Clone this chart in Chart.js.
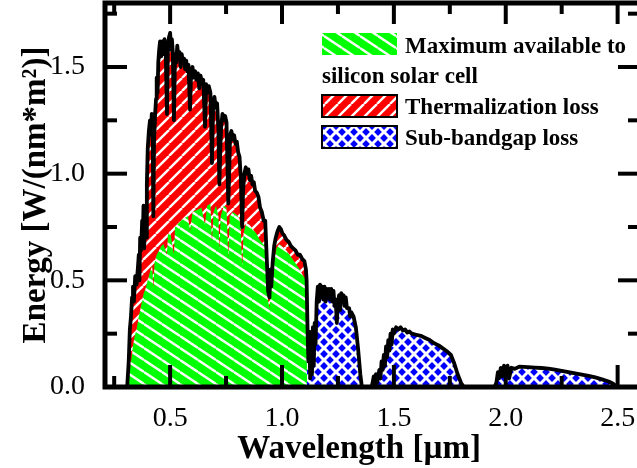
<!DOCTYPE html>
<html>
<head>
<meta charset="utf-8">
<script src="https://cdn.jsdelivr.net/npm/chart.js@4"></script>
<style>
  html, body { margin: 0; padding: 0; background: #fff; overflow: hidden; }
</style>
</head>
<body>
<canvas id="chart" width="645" height="468"></canvas>
<script>
// AM1.5 spectrum (wavelength in µm, energy in W/(nm*m^2))
const spectrumWl = [
  0.300, 0.308, 0.315, 0.320, 0.325, 0.330, 0.334, 0.338, 0.344, 0.350, 0.356, 0.360, 0.363, 0.366, 0.370,
  0.375, 0.378, 0.381, 0.384, 0.388, 0.393, 0.396, 0.400, 0.405, 0.410, 0.414, 0.418, 0.422, 0.425, 0.428,
  0.433, 0.437, 0.440, 0.444, 0.447, 0.451, 0.455, 0.460, 0.465, 0.470, 0.475, 0.480, 0.486, 0.490, 0.495,
  0.500, 0.504, 0.508, 0.512, 0.517, 0.522, 0.527, 0.532, 0.537, 0.542, 0.547, 0.552, 0.557, 0.562, 0.567,
  0.572, 0.577, 0.582, 0.589, 0.594, 0.600, 0.606, 0.612, 0.618, 0.624, 0.630, 0.636, 0.642, 0.648, 0.656,
  0.661, 0.667, 0.673, 0.680, 0.687, 0.692, 0.698, 0.704, 0.710, 0.716, 0.720, 0.724, 0.728, 0.734, 0.740,
  0.746, 0.752, 0.760, 0.764, 0.768, 0.774, 0.780, 0.786, 0.792, 0.798, 0.804, 0.810, 0.816, 0.822, 0.826,
  0.832, 0.838, 0.844, 0.850, 0.856, 0.862, 0.868, 0.874, 0.880, 0.888, 0.895, 0.902, 0.910, 0.918, 0.925,
  0.932, 0.938, 0.944, 0.948, 0.952, 0.958, 0.965, 0.972, 0.980, 0.988, 0.995, 1.002, 1.010, 1.020, 1.030,
  1.040, 1.050, 1.060, 1.070, 1.080, 1.090, 1.100, 1.107, 1.110, 1.114, 1.118, 1.122, 1.126, 1.130, 1.134,
  1.138, 1.142, 1.146, 1.150, 1.155, 1.160, 1.165, 1.170, 1.175, 1.180, 1.185, 1.190, 1.195, 1.200, 1.205,
  1.210, 1.215, 1.220, 1.225, 1.230, 1.235, 1.240, 1.245, 1.250, 1.255, 1.260, 1.265, 1.270, 1.275, 1.280,
  1.285, 1.290, 1.300, 1.305, 1.310, 1.320, 1.330, 1.340, 1.350, 1.357, 1.400, 1.405, 1.410, 1.415, 1.420,
  1.425, 1.430, 1.435, 1.440, 1.445, 1.450, 1.455, 1.460, 1.465, 1.470, 1.475, 1.480, 1.485, 1.490, 1.495,
  1.500, 1.510, 1.520, 1.530, 1.540, 1.550, 1.560, 1.570, 1.580, 1.600, 1.620, 1.640, 1.660, 1.680, 1.700,
  1.720, 1.740, 1.755, 1.770, 1.785, 1.800, 1.812, 1.950, 1.958, 1.965, 1.970, 1.978, 1.985, 1.992, 2.000,
  2.008, 2.015, 2.025, 2.040, 2.060, 2.080, 2.100, 2.130, 2.160, 2.190, 2.220, 2.250, 2.280, 2.310, 2.340,
  2.370, 2.400, 2.430, 2.460, 2.480, 2.500
];
const spectrumVal = [
  0.00, 0.00, 0.12, 0.27, 0.33, 0.42, 0.47, 0.40, 0.52, 0.48, 0.56, 0.62, 0.50, 0.70, 0.64,
  0.78, 0.70, 0.85, 0.65, 0.80, 0.70, 0.95, 1.12, 1.20, 1.25, 1.18, 1.28, 1.20, 0.80, 1.15,
  1.28, 1.35, 1.45, 1.38, 1.52, 1.58, 1.62, 1.55, 1.62, 1.56, 1.63, 1.58, 1.28, 1.60, 1.64,
  1.66, 1.58, 1.63, 1.57, 1.25, 1.56, 1.52, 1.60, 1.54, 1.57, 1.50, 1.56, 1.52, 1.54, 1.49,
  1.53, 1.48, 1.51, 1.30, 1.48, 1.50, 1.45, 1.48, 1.44, 1.47, 1.40, 1.46, 1.42, 1.44, 1.22,
  1.42, 1.38, 1.41, 1.38, 1.05, 1.30, 1.36, 1.31, 1.33, 1.20, 0.95, 1.10, 1.22, 1.28, 1.25,
  1.27, 1.24, 0.86, 1.00, 1.18, 1.20, 1.16, 1.18, 1.14, 1.15, 1.10, 1.08, 0.98, 0.75, 0.92,
  1.00, 1.03, 1.00, 1.02, 0.97, 0.99, 0.95, 0.96, 0.92, 0.91, 0.89, 0.84, 0.82, 0.78, 0.78,
  0.60, 0.45, 0.42, 0.55, 0.47, 0.58, 0.66, 0.70, 0.73, 0.75, 0.74, 0.72, 0.71, 0.69, 0.68,
  0.66, 0.65, 0.64, 0.62, 0.62, 0.60, 0.59, 0.55, 0.50, 0.28, 0.12, 0.26, 0.04, 0.22, 0.06,
  0.28, 0.10, 0.30, 0.20, 0.40, 0.47, 0.40, 0.48, 0.42, 0.47, 0.41, 0.47, 0.40, 0.46, 0.42,
  0.46, 0.41, 0.46, 0.40, 0.45, 0.38, 0.41, 0.30, 0.40, 0.43, 0.36, 0.44, 0.40, 0.43, 0.38,
  0.42, 0.37, 0.37, 0.33, 0.35, 0.33, 0.28, 0.18, 0.06, 0.00, 0.00, 0.02, 0.05, 0.01, 0.06,
  0.02, 0.05, 0.08, 0.04, 0.12, 0.08, 0.15, 0.10, 0.19, 0.14, 0.22, 0.17, 0.25, 0.20, 0.27,
  0.25, 0.28, 0.27, 0.28, 0.265, 0.27, 0.255, 0.26, 0.25, 0.245, 0.24, 0.23, 0.22, 0.205, 0.195,
  0.18, 0.165, 0.15, 0.11, 0.06, 0.02, 0.00, 0.00, 0.02, 0.07, 0.04, 0.09, 0.05, 0.10, 0.06,
  0.10, 0.04, 0.09, 0.085, 0.095, 0.094, 0.093, 0.091, 0.089, 0.086, 0.081, 0.076, 0.070, 0.064, 0.058,
  0.052, 0.045, 0.036, 0.026, 0.015, 0.00
];

// part usable by a Si cell (green)
const maxAvailWl = [
  0.310, 0.320, 0.328, 0.335, 0.342, 0.350, 0.358, 0.366, 0.374, 0.382, 0.390, 0.400, 0.410, 0.420, 0.425,
  0.430, 0.440, 0.450, 0.460, 0.470, 0.486, 0.490, 0.500, 0.517, 0.522, 0.540, 0.560, 0.580, 0.589, 0.600,
  0.620, 0.640, 0.656, 0.665, 0.680, 0.687, 0.694, 0.705, 0.716, 0.720, 0.726, 0.740, 0.752, 0.760, 0.766,
  0.780, 0.795, 0.810, 0.816, 0.822, 0.828, 0.840, 0.855, 0.870, 0.885, 0.900, 0.915, 0.925, 0.932, 0.938,
  0.944, 0.950, 0.958, 0.966, 0.975, 0.988, 1.000, 1.020, 1.040, 1.060, 1.080, 1.095, 1.108, 1.112
];
const maxAvailVal = [
  0.00, 0.08, 0.14, 0.20, 0.24, 0.27, 0.32, 0.36, 0.40, 0.44, 0.46, 0.50, 0.54, 0.57, 0.46,
  0.58, 0.62, 0.64, 0.66, 0.67, 0.62, 0.71, 0.73, 0.62, 0.75, 0.77, 0.79, 0.80, 0.73, 0.82,
  0.83, 0.84, 0.76, 0.85, 0.86, 0.68, 0.82, 0.85, 0.80, 0.64, 0.80, 0.85, 0.84, 0.60, 0.80,
  0.82, 0.81, 0.79, 0.74, 0.56, 0.72, 0.77, 0.76, 0.74, 0.72, 0.69, 0.67, 0.66, 0.52, 0.40,
  0.37, 0.44, 0.52, 0.60, 0.65, 0.67, 0.66, 0.64, 0.61, 0.58, 0.55, 0.52, 0.50, 0.00
];

const bandgapWl = 1.11;

const xTickVals = [0.5, 1.0, 1.5, 2.0, 2.5];
const xTickLabels = ['0.5', '1.0', '1.5', '2.0', '2.5'];
const xMinorVals = [0.25, 0.75, 1.25, 1.75, 2.25];
const yTickVals = [0, 0.5, 1.0, 1.5];
const yTickLabels = ['0.0', '0.5', '1.0', '1.5'];
const yMinorVals = [0.25, 0.75, 1.25, 1.75];

const legendLabels = ['Maximum available to', 'silicon solar cell', 'Thermalization loss', 'Sub-bandgap loss'];

const SERIF = '"Liberation Serif", "Times New Roman", serif';

function makePattern(bg, w, h, draw) {
  const c = document.createElement('canvas');
  c.width = w; c.height = h;
  const g = c.getContext('2d');
  g.fillStyle = bg;
  g.fillRect(0, 0, w, h);
  g.strokeStyle = '#fff';
  draw(g, w, h);
  return g.createPattern(c, 'repeat');
}

// red: white "/" stripes
const redPat = makePattern('#ff0000', 13, 13, (g, w, h) => {
  g.lineWidth = 2.4;
  for (let k = -1; k <= 1; k++) {
    g.beginPath(); g.moveTo(k * w, h); g.lineTo(k * w + w, 0); g.stroke();
  }
});
// green: white "\" stripes
const greenPat = makePattern('#00ff00', 18, 12, (g, w, h) => {
  g.lineWidth = 2.4;
  for (let k = -1; k <= 1; k++) {
    g.beginPath(); g.moveTo(0, k * h); g.lineTo(w, k * h + h); g.stroke();
  }
});
// blue: white cross hatch
const bluePat = makePattern('#0000ff', 12, 12, (g, w, h) => {
  g.lineWidth = 3;
  for (let k = -1; k <= 1; k++) {
    g.beginPath(); g.moveTo(k * w, h); g.lineTo(k * w + w, 0); g.stroke();
    g.beginPath(); g.moveTo(0, k * h); g.lineTo(w, k * h + h); g.stroke();
  }
});

const spectrumPts = spectrumWl.map((x, i) => ({ x, y: spectrumVal[i] }));
const maxAvailPts = maxAvailWl.map((x, i) => ({ x, y: maxAvailVal[i] }));
const thermPts = spectrumPts.filter(p => p.x <= bandgapWl);
const subPts = spectrumPts.filter(p => p.x >= bandgapWl);

const framePlugin = {
  id: 'frame',
  afterDatasetsDraw(chart) {
    const { ctx, chartArea: a, scales: { x, y } } = chart;
    ctx.save();
    ctx.strokeStyle = '#000';
    ctx.lineCap = 'butt';
    ctx.lineWidth = 4;
    const seg = (x1, y1, x2, y2) => { ctx.beginPath(); ctx.moveTo(x1, y1); ctx.lineTo(x2, y2); ctx.stroke(); };
    const left = a.left + 2;
    xTickVals.forEach(v => { const p = x.getPixelForValue(v); seg(p, a.bottom, p, a.bottom - 22); seg(p, a.top, p, a.top + 21); });
    xMinorVals.forEach(v => { const p = x.getPixelForValue(v); seg(p, a.bottom, p, a.bottom - 11); seg(p, a.top, p, a.top + 11); });
    yTickVals.forEach(v => { const p = y.getPixelForValue(v); seg(left, p, left + 22, p); seg(a.right, p, a.right - 22, p); });
    yMinorVals.forEach(v => { const p = y.getPixelForValue(v); seg(left, p, left + 12, p); seg(a.right, p, a.right - 12, p); });
    ctx.lineWidth = 5;
    ctx.strokeRect(left, a.top, a.right - left, a.bottom - a.top);
    ctx.restore();
  }
};

const legendPlugin = {
  id: 'boxLegend',
  afterDraw(chart) {
    const ctx = chart.ctx;
    ctx.save();
    const sw = 75, sh = 22, sx = 322;
    ctx.fillStyle = greenPat; ctx.fillRect(sx, 33, sw, sh);
    ctx.fillStyle = redPat; ctx.fillRect(sx, 95, sw, sh);
    ctx.fillStyle = bluePat; ctx.fillRect(sx, 126, sw, sh);
    ctx.strokeStyle = '#000'; ctx.lineWidth = 2;
    ctx.strokeRect(sx, 95, sw, sh);
    ctx.strokeRect(sx, 126, sw, sh);
    ctx.fillStyle = '#000';
    ctx.font = 'bold 23px ' + SERIF;
    ctx.textBaseline = 'alphabetic';
    ctx.textAlign = 'left';
    ctx.fillText(legendLabels[0], 405, 53);
    ctx.fillText(legendLabels[1], 322, 83);
    ctx.fillText(legendLabels[2], 405, 114);
    ctx.fillText(legendLabels[3], 405, 145);
    ctx.restore();
  }
};

new Chart(document.getElementById('chart'), {
  type: 'line',
  data: {
    datasets: [
      { label: 'AM1.5', data: spectrumPts, borderColor: '#000', borderWidth: 3.8, fill: false, order: 0 },
      { label: legendLabels[0], data: maxAvailPts, borderWidth: 0, borderColor: 'rgba(0,0,0,0)', backgroundColor: greenPat, fill: 'origin', order: 1 },
      { label: legendLabels[3], data: subPts, borderWidth: 0, borderColor: 'rgba(0,0,0,0)', backgroundColor: bluePat, fill: 'origin', order: 2 },
      { label: legendLabels[2], data: thermPts, borderWidth: 0, borderColor: 'rgba(0,0,0,0)', backgroundColor: redPat, fill: 'origin', order: 3 }
    ]
  },
  options: {
    responsive: false,
    animation: false,
    parsing: false,
    normalized: true,
    elements: { point: { radius: 0 }, line: { tension: 0, borderJoinStyle: 'round' } },
    layout: { padding: { left: 0, top: 3, right: 5, bottom: 0 } },
    plugins: { legend: { display: false }, tooltip: { enabled: false } },
    scales: {
      x: {
        type: 'linear', min: 0.2, max: 2.6,
        grid: { display: false }, border: { display: false },
        afterBuildTicks: s => { s.ticks = xTickVals.map(v => ({ value: v })); },
        afterFit: s => { s.height = 81; s.paddingLeft = 0; s.paddingRight = 0; },
        ticks: {
          color: '#000', padding: 7, maxRotation: 0, autoSkip: false,
          font: { family: SERIF, size: 28 },
          callback: v => xTickLabels[xTickVals.indexOf(v)]
        },
        title: {
          display: true, text: 'Wavelength [\u00b5m]   ', color: '#000',
          font: { family: SERIF, size: 33, weight: 'bold', lineHeight: 1 },
          padding: { top: 0, bottom: 2 }
        }
      },
      y: {
        type: 'linear', min: 0, max: 1.8,
        grid: { display: false }, border: { display: false },
        afterBuildTicks: s => { s.ticks = yTickVals.map(v => ({ value: v })); },
        afterFit: s => { s.width = 103; s.paddingTop = 0; s.paddingBottom = 0; },
        ticks: {
          color: '#000', padding: 10, autoSkip: false,
          font: { family: SERIF, size: 28 },
          callback: v => yTickLabels[yTickVals.indexOf(v)]
        },
        title: {
          display: true, text: 'Energy [W/(nm*m\u00b2)]', color: '#000',
          font: { family: SERIF, size: 33, weight: 'bold', lineHeight: 1 },
          padding: { top: 20, bottom: 0 }
        }
      }
    }
  },
  plugins: [framePlugin, legendPlugin]
});
</script>
</body>
</html>
